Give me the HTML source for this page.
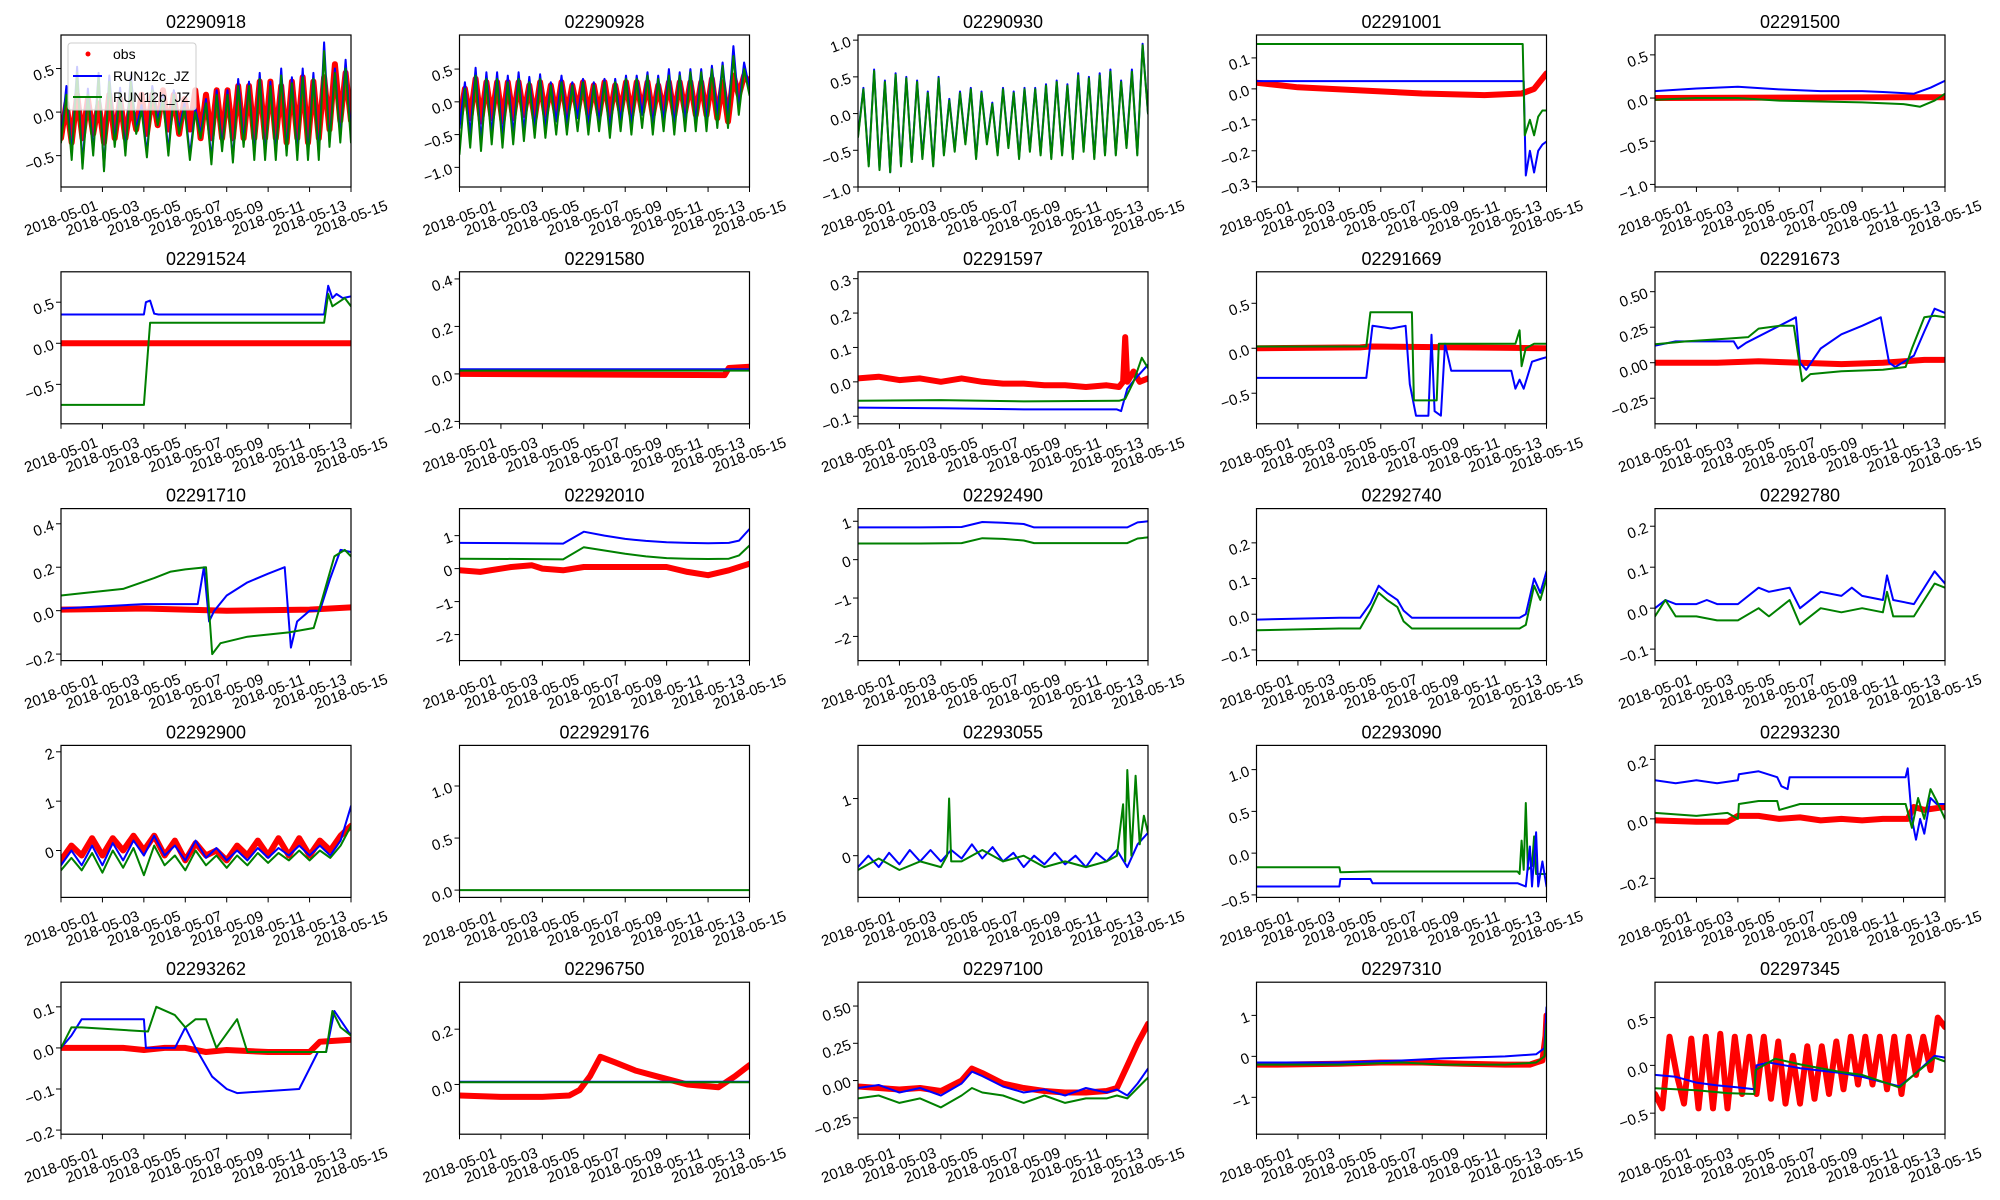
<!DOCTYPE html>
<html><head><meta charset="utf-8"><style>
html,body{margin:0;padding:0;background:#fff;}
svg{display:block;font-family:"Liberation Sans","DejaVu Sans",sans-serif;}
</style></head><body>
<svg id="fig" width="2000" height="1200" viewBox="0 0 2000 1200" xmlns="http://www.w3.org/2000/svg"></svg>
<script>
// ---------- data ----------
const xTickLabels = ["2018-05-01","2018-05-03","2018-05-05","2018-05-07","2018-05-09","2018-05-11","2018-05-13","2018-05-15"];
const xTickDays = [0,2,4,6,8,10,12,14];
const stationNames = ["02290918","02290928","02290930","02291001","02291500","02291524","02291580","02291597","02291669","02291673","02291710","02292010","02292490","02292740","02292780","02292900","022929176","02293055","02293090","02293230","02293262","02296750","02297100","02297310","02297345"];
const yMins = [-0.86,-1.3,-1.0,-0.317,-1.03,-0.98,-0.21,-0.122,-0.84,-0.43,-0.23,-2.79,-2.63,-0.13,-0.128,-0.95,-0.07,-0.73,-0.53,-0.264,-0.21,-0.18,-0.36,-1.9,-0.72];
const yMaxs = [0.885,1.02,1.07,0.174,0.73,0.87,0.43,0.32,0.85,0.64,0.47,1.82,1.33,0.296,0.243,2.13,1.39,1.93,1.29,0.247,0.16,0.37,0.66,1.81,0.87];
const yTicks = [[-0.5,0,0.5],[-1,-0.5,0,0.5],[-1,-0.5,0,0.5,1],[-0.3,-0.2,-0.1,0,0.1],[-1,-0.5,0,0.5],[-0.5,0,0.5],[-0.2,0,0.2,0.4],[-0.1,0,0.1,0.2,0.3],[-0.5,0,0.5],[-0.25,0,0.25,0.5],[-0.2,0,0.2,0.4],[-2,-1,0,1],[-2,-1,0,1],[-0.1,0,0.1,0.2],[-0.1,0,0.1,0.2],[0,1,2],[0,0.5,1],[0,1],[-0.5,0,0.5,1],[-0.2,0,0.2],[-0.2,-0.1,0,0.1],[0,0.2],[-0.25,0,0.25,0.5],[-1,0,1],[-0.5,0,0.5]];
const yTickLabels = [["−0.5","0.0","0.5"],["−1.0","−0.5","0.0","0.5"],["−1.0","−0.5","0.0","0.5","1.0"],["−0.3","−0.2","−0.1","0.0","0.1"],["−1.0","−0.5","0.0","0.5"],["−0.5","0.0","0.5"],["−0.2","0.0","0.2","0.4"],["−0.1","0.0","0.1","0.2","0.3"],["−0.5","0.0","0.5"],["−0.25","0.00","0.25","0.50"],["−0.2","0.0","0.2","0.4"],["−2","−1","0","1"],["−2","−1","0","1"],["−0.1","0.0","0.1","0.2"],["−0.1","0.0","0.1","0.2"],["0","1","2"],["0.0","0.5","1.0"],["0","1"],["−0.5","0.0","0.5","1.0"],["−0.2","0.0","0.2"],["−0.2","−0.1","0.0","0.1"],["0.0","0.2"],["−0.25","0.00","0.25","0.50"],["−1","0","1"],["−0.5","0.0","0.5"]];

// uniform-in-time series (values spread from day 0 to day 14)
const p1Obs = [-0.3,0.1,-0.35,0.2,-0.3,0.15,-0.25,0.1,-0.35,0.2,-0.3,0.15,-0.3,0.1,-0.2,0.2,-0.25,0.2,-0.15,0.25,-0.2,0.2,-0.25,0.15,-0.2,0.25,-0.3,0.2,-0.3,0.25,-0.3,0.25,-0.3,0.3,-0.3,0.3,-0.3,0.35,-0.3,0.35,-0.3,0.3,-0.35,0.35,-0.3,0.4,-0.35,0.35,-0.3,0.4,-0.2,0.55,-0.1,0.45,-0.1];
const p1Blue = [-0.3,0.3,-0.5,0.52,-0.6,0.27,-0.45,0.45,-0.65,0.42,-0.35,0.28,-0.45,0.42,-0.2,0.08,-0.48,0.3,-0.1,0.2,-0.45,0.25,-0.2,0.1,-0.5,0.05,-0.25,0.15,-0.55,0.25,-0.4,0.25,-0.55,0.38,-0.35,0.35,-0.5,0.45,-0.5,0.35,-0.5,0.5,-0.45,0.4,-0.5,0.5,-0.5,0.45,-0.5,0.8,-0.35,0.5,-0.3,0.6,-0.3];
const p1Green = [-0.35,0.2,-0.55,0.45,-0.65,0.2,-0.5,0.4,-0.68,0.35,-0.4,0.22,-0.5,0.35,-0.25,0.02,-0.52,0.25,-0.15,0.15,-0.5,0.2,-0.25,0.05,-0.55,0.0,-0.3,0.1,-0.6,0.2,-0.45,0.2,-0.58,0.3,-0.4,0.3,-0.55,0.38,-0.55,0.3,-0.55,0.42,-0.5,0.33,-0.55,0.4,-0.55,0.38,-0.55,0.7,-0.4,0.45,-0.35,0.5,-0.35];
const p2Obs = [-0.3,0.2,-0.25,0.35,-0.3,0.3,-0.25,0.3,-0.3,0.3,-0.25,0.3,-0.2,0.25,-0.25,0.3,-0.2,0.25,-0.2,0.3,-0.2,0.25,-0.15,0.3,-0.2,0.25,-0.2,0.3,-0.2,0.25,-0.15,0.3,-0.2,0.3,-0.15,0.3,-0.2,0.25,-0.15,0.3,-0.2,0.3,-0.15,0.3,-0.2,0.3,-0.2,0.35,-0.25,0.3,-0.3,0.4,0.1,0.4,0.3];
const p2Blue = [-0.4,0.3,-0.5,0.52,-0.6,0.45,-0.5,0.45,-0.55,0.4,-0.5,0.45,-0.45,0.38,-0.4,0.42,-0.4,0.3,-0.3,0.4,-0.35,0.3,-0.25,0.35,-0.35,0.3,-0.3,0.35,-0.4,0.35,-0.3,0.4,-0.35,0.4,-0.2,0.45,-0.35,0.4,-0.3,0.5,-0.35,0.45,-0.3,0.5,-0.3,0.5,-0.3,0.55,-0.2,0.6,-0.25,0.85,-0.1,0.6,0.2];
const p2Green = [-0.8,0.2,-0.7,0.4,-0.75,0.35,-0.65,0.35,-0.7,0.3,-0.65,0.35,-0.6,0.3,-0.55,0.35,-0.55,0.25,-0.5,0.3,-0.5,0.25,-0.45,0.3,-0.5,0.25,-0.45,0.3,-0.55,0.3,-0.45,0.35,-0.5,0.35,-0.4,0.4,-0.5,0.35,-0.45,0.4,-0.5,0.4,-0.45,0.45,-0.45,0.45,-0.45,0.5,-0.4,0.55,-0.4,0.7,-0.2,0.5,0.1];
const p3Blue = [-0.3,0.35,-0.7,0.6,-0.75,0.45,-0.8,0.55,-0.7,0.5,-0.65,0.45,-0.6,0.3,-0.7,0.5,-0.55,0.2,-0.5,0.3,-0.4,0.35,-0.6,0.3,-0.4,0.15,-0.55,0.35,-0.45,0.3,-0.6,0.35,-0.5,0.35,-0.55,0.4,-0.6,0.45,-0.55,0.4,-0.6,0.55,-0.5,0.5,-0.6,0.55,-0.55,0.6,-0.55,0.45,-0.45,0.6,-0.55,0.95,0.0];
const p3Green = [-0.32,0.33,-0.72,0.58,-0.77,0.43,-0.8,0.53,-0.72,0.48,-0.66,0.43,-0.62,0.28,-0.72,0.48,-0.57,0.18,-0.52,0.28,-0.42,0.33,-0.62,0.28,-0.42,0.13,-0.57,0.33,-0.47,0.28,-0.62,0.33,-0.52,0.33,-0.57,0.38,-0.62,0.43,-0.57,0.38,-0.62,0.52,-0.52,0.48,-0.62,0.52,-0.57,0.57,-0.57,0.43,-0.47,0.57,-0.57,0.93,0.0];
const p16Obs = [-0.2,0.1,-0.1,0.25,-0.1,0.25,0.0,0.3,0.0,0.3,-0.1,0.2,-0.2,0.15,-0.1,0.0,-0.2,0.1,-0.1,0.2,-0.1,0.25,-0.1,0.25,-0.1,0.2,0.0,0.3,0.5];
const p16Blue = [-0.3,0.0,-0.3,0.1,-0.3,0.15,-0.2,0.2,-0.1,0.3,-0.1,0.1,-0.2,0.2,-0.15,0.05,-0.2,0.0,-0.2,0.05,-0.15,0.05,-0.1,0.1,-0.1,0.1,-0.1,0.2,0.9];
const p16Green = [-0.4,-0.15,-0.4,-0.05,-0.45,0.0,-0.35,0.05,-0.5,0.1,-0.3,-0.1,-0.4,0.0,-0.3,-0.1,-0.35,-0.1,-0.3,-0.05,-0.25,-0.05,-0.2,0.0,-0.2,0.0,-0.15,0.1,0.5];
const p18Blue = [-0.2,0.0,-0.2,0.05,-0.15,0.1,-0.1,0.1,-0.1,0.1,-0.05,0.2,-0.05,0.15,-0.1,0.05,-0.2,0.0,-0.15,0.05,-0.15,0.0,-0.2,0.05,-0.1,0.1,-0.2,0.2,0.4];
const p25Obs = [-0.3,-0.45,0.3,-0.1,-0.4,0.28,-0.45,0.3,-0.45,0.33,-0.45,0.3,-0.3,0.3,-0.3,0.3,-0.35,0.25,-0.4,0.1,-0.4,0.2,-0.35,0.2,-0.3,0.25,-0.25,0.3,-0.2,0.3,-0.2,0.3,-0.25,0.3,-0.3,0.3,-0.1,0.3,-0.05,0.5,0.4];

// time-stamped series: [days] and [values]
const p4ObsT=[0,2,5,8,11,12.8,13.4,14], p4ObsV=[0.02,0.005,-0.005,-0.015,-0.02,-0.015,0.0,0.05];
const p4BlueT=[0,12.9,13.0,13.2,13.4,13.6,13.8,14], p4BlueV=[0.025,0.025,-0.28,-0.2,-0.27,-0.2,-0.18,-0.17];
const p4GreenT=[0,12.85,12.95,13.2,13.4,13.6,13.8,14], p4GreenV=[0.145,0.145,-0.15,-0.1,-0.15,-0.09,-0.07,-0.07];
const p5ObsT=[0,14], p5ObsV=[0.0,0.01];
const p5BlueT=[0,2,4,6,8,10,11,12.5,13.3,14], p5BlueV=[0.08,0.11,0.13,0.1,0.08,0.08,0.07,0.05,0.12,0.2];
const p5GreenT=[0,2,4,6,8,10,12,12.8,13.5,14], p5GreenV=[-0.02,0.0,0.0,-0.03,-0.04,-0.05,-0.07,-0.1,-0.03,0.05];
const p6ObsT=[0,14], p6ObsV=[0.0,0.0];
const p6BlueT=[0,4.0,4.1,4.3,4.5,4.7,12.7,12.9,13.1,13.3,13.6,14], p6BlueV=[0.35,0.35,0.5,0.52,0.36,0.35,0.35,0.7,0.55,0.6,0.55,0.57];
const p6GreenT=[0,4.0,4.3,12.7,12.9,13.1,13.4,13.7,14], p6GreenV=[-0.75,-0.75,0.25,0.25,0.6,0.45,0.5,0.55,0.45];
const p7ObsT=[0,12.8,13.0,14], p7ObsV=[0.0,-0.005,0.025,0.03];
const p7BlueT=[0,14], p7BlueV=[0.02,0.02];
const p7GreenT=[0,14], p7GreenV=[0.014,0.014];
const p8ObsT=[0,1,2,3,4,5,6,7,8,9,10,11,12,12.6,12.8,12.9,13.0,13.3,13.6,14], p8ObsV=[0.01,0.015,0.005,0.01,0.0,0.01,0.0,-0.005,-0.005,-0.01,-0.01,-0.015,-0.01,-0.015,0.0,0.13,0.0,0.03,0.0,0.01];
const p8BlueT=[0,4,8,12.5,12.7,13.0,13.4,14], p8BlueV=[-0.075,-0.077,-0.08,-0.08,-0.085,-0.02,0.01,0.05];
const p8GreenT=[0,4,8,12.6,12.9,13.3,13.7,14], p8GreenV=[-0.055,-0.053,-0.057,-0.055,-0.05,0.0,0.07,0.04];
const p9ObsT=[0,5,5.5,14], p9ObsV=[0.0,0.01,0.02,0.0];
const p9BlueT=[0,5.3,5.6,6.5,7.2,7.4,7.7,8.3,8.45,8.6,8.9,9.1,9.4,12.3,12.5,12.7,12.9,13.3,13.7,14], p9BlueV=[-0.33,-0.33,0.25,0.22,0.25,-0.4,-0.75,-0.75,0.15,-0.7,-0.75,0.05,-0.25,-0.25,-0.45,-0.35,-0.45,-0.15,-0.12,-0.1];
const p9GreenT=[0,5.3,5.5,7.5,7.6,8.7,8.8,12.5,12.7,12.8,13.0,13.4,14], p9GreenV=[0.02,0.02,0.4,0.4,-0.58,-0.58,0.05,0.05,0.2,-0.2,0.0,0.05,0.05];
const p10ObsT=[0,3,5,7,9,11,13,14], p10ObsV=[0.0,0.0,0.01,0.0,-0.01,0.0,0.02,0.02];
const p10BlueT=[0,1,3.8,4.0,4.4,6.8,7.0,7.3,8.0,9,10,10.9,11.3,11.6,12.5,13.0,13.5,14], p10BlueV=[0.12,0.15,0.15,0.1,0.14,0.32,0.0,-0.05,0.1,0.2,0.26,0.32,0.0,-0.03,0.05,0.22,0.38,0.35];
const p10GreenT=[0,1.5,3.5,4.5,5.0,6.0,6.7,7.1,7.5,9,11,12.1,12.4,13.0,13.5,14], p10GreenV=[0.13,0.15,0.17,0.18,0.24,0.26,0.26,-0.13,-0.08,-0.06,-0.05,-0.03,0.1,0.32,0.33,0.32];
const p11ObsT=[0,4,8,12,14], p11ObsV=[0.005,0.01,0.0,0.005,0.015];
const p11BlueT=[0,4,6.6,6.9,7.15,7.4,8,9,10,10.8,11.1,11.4,12,12.5,13,13.5,14], p11BlueV=[0.01,0.03,0.03,0.2,-0.05,0.0,0.07,0.13,0.17,0.2,-0.17,-0.05,0.0,0.0,0.15,0.28,0.27];
const p11GreenT=[0,1,3,4.5,5.3,6,7.0,7.3,7.7,9,11,12.2,12.6,13.2,13.7,14], p11GreenV=[0.07,0.08,0.1,0.15,0.18,0.19,0.2,-0.2,-0.15,-0.12,-0.1,-0.08,0.05,0.25,0.28,0.25];
const p12ObsT=[0,1,2.5,3.5,4,5,6,8,10,11,12,13,14], p12ObsV=[-0.05,-0.1,0.05,0.1,0.0,-0.05,0.05,0.05,0.05,-0.1,-0.2,-0.05,0.15];
const p12BlueT=[0,3,5,6,7,8,9,10,11,12,13,13.5,14], p12BlueV=[0.78,0.77,0.76,1.12,1.0,0.9,0.84,0.8,0.78,0.77,0.78,0.85,1.2];
const p12GreenT=[0,3,5,6,7,8,9,10,11,12,13,13.5,14], p12GreenV=[0.3,0.29,0.28,0.65,0.55,0.45,0.37,0.32,0.3,0.29,0.3,0.4,0.7];
const p13BlueT=[0,3,5,6,7,8,8.5,10,12,13,13.5,14], p13BlueV=[0.84,0.84,0.85,0.98,0.96,0.93,0.84,0.84,0.84,0.84,0.97,1.0];
const p13GreenT=[0,3,5,6,7,8,8.5,10,12,13,13.5,14], p13GreenV=[0.42,0.42,0.43,0.56,0.54,0.5,0.43,0.43,0.43,0.43,0.55,0.58];
const p14BlueT=[0,4,5,5.5,5.9,6.3,6.8,7.1,7.5,12.7,13.0,13.4,13.7,14], p14BlueV=[-0.015,-0.01,-0.01,0.03,0.08,0.06,0.04,0.01,-0.01,-0.01,0.0,0.1,0.06,0.12];
const p14GreenT=[0,4,5,5.5,5.9,6.3,6.8,7.1,7.5,12.7,13.0,13.4,13.7,14], p14GreenV=[-0.045,-0.04,-0.04,0.01,0.06,0.04,0.02,-0.02,-0.04,-0.04,-0.03,0.08,0.04,0.1];
const p15BlueT=[0,0.5,1,2,2.5,3,4,5,5.5,6.5,7,8,9,9.5,10,11,11.2,11.5,12.5,13.5,14], p15BlueV=[0.0,0.02,0.01,0.01,0.02,0.01,0.01,0.05,0.04,0.05,0.0,0.04,0.03,0.05,0.03,0.02,0.08,0.02,0.01,0.09,0.06];
const p15GreenT=[0,0.5,1,2,3,4,5,5.5,6.5,7,8,9,10,11,11.2,11.5,12.5,13.5,14], p15GreenV=[-0.02,0.02,-0.02,-0.02,-0.03,-0.03,0.0,-0.02,0.02,-0.04,0.0,-0.01,0.0,-0.01,0.04,-0.02,-0.02,0.06,0.05];
const p17GreenT=[0,14], p17GreenV=[0.0,0.0];
const p18GreenT=[0,1,2,3,4,4.3,4.4,4.5,5,6,7,8,9,10,11,12,12.5,12.8,12.9,13.0,13.2,13.4,13.6,13.8,14], p18GreenV=[-0.25,-0.05,-0.25,-0.1,-0.2,0.0,1.0,-0.1,-0.1,0.1,-0.1,0.0,-0.2,-0.1,-0.2,-0.1,0.0,0.9,-0.1,1.5,0.0,1.4,0.2,0.7,0.4];
const p19GreenT=[0,4.0,4.05,5.5,12.6,12.7,12.8,12.9,13.0,13.1,13.3,13.4,13.5,13.7,14], p19GreenV=[-0.17,-0.17,-0.23,-0.22,-0.22,-0.25,0.15,-0.2,0.6,-0.2,-0.15,0.2,-0.25,-0.25,-0.25];
const p19BlueT=[0,4.0,4.05,5.5,5.6,12.6,13.0,13.2,13.3,13.5,13.6,13.8,14], p19BlueV=[-0.4,-0.4,-0.31,-0.31,-0.36,-0.36,-0.4,0.08,-0.4,0.25,-0.4,-0.1,-0.4];
const p20ObsT=[0,2,3.5,4.0,5,6,7,8,9,10,11,12.2,12.5,13,14], p20ObsV=[-0.005,-0.01,-0.01,0.01,0.01,0.0,0.005,-0.005,0.0,-0.005,0.0,0.0,0.04,0.03,0.04];
const p20BlueT=[0,1,2,3,4,4.05,5,5.9,6.1,6.4,6.5,8,10,12.1,12.2,12.4,12.6,12.8,13.0,13.3,13.6,14], p20BlueV=[0.13,0.12,0.13,0.12,0.13,0.15,0.16,0.14,0.11,0.1,0.14,0.14,0.14,0.14,0.17,0.0,-0.07,0.0,-0.05,0.07,0.05,0.05];
const p20GreenT=[0,2,3.5,4.0,4.05,5,5.9,6.0,7,9,11,12.1,12.4,12.7,13.0,13.3,13.6,14], p20GreenV=[0.02,0.01,0.02,0.0,0.05,0.06,0.06,0.03,0.05,0.05,0.05,0.05,-0.03,0.07,0.0,0.1,0.06,0.0];
const p21ObsT=[0,3,4,5,6,7,8,10,12,12.5,14], p21ObsV=[0.0,0.0,-0.005,0.0,0.0,-0.01,-0.005,-0.01,-0.01,0.015,0.02];
const p21BlueT=[0,0.5,1,4.0,4.1,5.5,6,6.5,7.3,8,8.5,11.5,12,12.4,12.8,13.2,14], p21BlueV=[0.0,0.03,0.07,0.07,0.0,0.0,0.05,0.0,-0.07,-0.1,-0.11,-0.1,-0.05,-0.01,-0.01,0.09,0.03];
const p21GreenT=[0,0.5,1,4.2,4.6,5.5,6.0,6.5,7.0,7.5,8.5,9,12.5,12.8,13.1,13.5,14], p21GreenV=[0.0,0.05,0.05,0.04,0.1,0.08,0.05,0.07,0.07,0.0,0.07,-0.01,-0.01,-0.01,0.09,0.05,0.03];
const p22ObsT=[0,2,4,5.3,5.8,6.3,6.8,7.5,8.5,9.5,10.5,11,12.5,13.3,14], p22ObsV=[-0.04,-0.045,-0.045,-0.04,-0.02,0.03,0.1,0.08,0.05,0.03,0.01,0.0,-0.01,0.03,0.07];
const p22BlueT=[0,14], p22BlueV=[0.01,0.01];
const p22GreenT=[0,14], p22GreenV=[0.008,0.008];
const p23ObsT=[0,1,2,3,4,5,5.5,6,7,8,9,10,11,12,12.5,13,13.5,14], p23ObsV=[-0.04,-0.05,-0.06,-0.05,-0.07,0.0,0.08,0.05,-0.02,-0.05,-0.07,-0.08,-0.08,-0.07,-0.05,0.1,0.25,0.38];
const p23BlueT=[0,1,2,3,4,5,5.5,6,7,8,9,10,11,12,12.5,13,13.5,14], p23BlueV=[-0.05,-0.03,-0.08,-0.05,-0.1,-0.02,0.06,0.03,-0.04,-0.08,-0.06,-0.1,-0.05,-0.08,-0.06,-0.1,-0.02,0.08];
const p23GreenT=[0,1,2,3,4,5,5.5,6,7,8,9,10,11,12,12.5,13,13.5,14], p23GreenV=[-0.12,-0.1,-0.15,-0.12,-0.18,-0.1,-0.05,-0.08,-0.1,-0.15,-0.1,-0.15,-0.12,-0.12,-0.1,-0.12,-0.05,0.02];
const p24ObsT=[0,1,4,6,8,10,12,13.2,13.5,13.8,13.95,14], p24ObsV=[-0.2,-0.2,-0.18,-0.15,-0.15,-0.18,-0.2,-0.2,-0.15,-0.1,0.5,1.0];
const p24BlueT=[0,4,7,9,12,13.5,13.9,14], p24BlueV=[-0.15,-0.15,-0.1,-0.05,0.0,0.05,0.2,1.2];
const p24GreenT=[0,4,7,9,12,13.5,13.9,14], p24GreenV=[-0.2,-0.2,-0.15,-0.2,-0.2,-0.15,0.0,0.8];
const p25BlueT=[0,1,2,3,4,4.8,4.9,5.5,7,9,10,11.8,12.5,13.5,14], p25BlueV=[-0.1,-0.12,-0.18,-0.21,-0.23,-0.25,0.0,0.03,-0.03,-0.08,-0.12,-0.22,-0.1,0.1,0.08];
const p25GreenT=[0,2,3.5,4.8,4.85,5.8,7,9,10,11.8,12.5,13.5,14], p25GreenV=[-0.24,-0.26,-0.29,-0.3,-0.05,0.07,0.01,-0.07,-0.1,-0.23,-0.1,0.08,0.04];

// ---------- series table per panel ----------
const panelSeries = [
  [["obs",p1Obs],["blue",p1Blue],["green",p1Green]],
  [["obs",p2Obs],["blue",p2Blue],["green",p2Green]],
  [["blue",p3Blue],["green",p3Green]],
  [["obs",p4ObsV,p4ObsT],["blue",p4BlueV,p4BlueT],["green",p4GreenV,p4GreenT]],
  [["obs",p5ObsV,p5ObsT],["blue",p5BlueV,p5BlueT],["green",p5GreenV,p5GreenT]],
  [["obs",p6ObsV,p6ObsT],["blue",p6BlueV,p6BlueT],["green",p6GreenV,p6GreenT]],
  [["obs",p7ObsV,p7ObsT],["blue",p7BlueV,p7BlueT],["green",p7GreenV,p7GreenT]],
  [["obs",p8ObsV,p8ObsT],["blue",p8BlueV,p8BlueT],["green",p8GreenV,p8GreenT]],
  [["obs",p9ObsV,p9ObsT],["blue",p9BlueV,p9BlueT],["green",p9GreenV,p9GreenT]],
  [["obs",p10ObsV,p10ObsT],["blue",p10BlueV,p10BlueT],["green",p10GreenV,p10GreenT]],
  [["obs",p11ObsV,p11ObsT],["blue",p11BlueV,p11BlueT],["green",p11GreenV,p11GreenT]],
  [["obs",p12ObsV,p12ObsT],["blue",p12BlueV,p12BlueT],["green",p12GreenV,p12GreenT]],
  [["blue",p13BlueV,p13BlueT],["green",p13GreenV,p13GreenT]],
  [["blue",p14BlueV,p14BlueT],["green",p14GreenV,p14GreenT]],
  [["blue",p15BlueV,p15BlueT],["green",p15GreenV,p15GreenT]],
  [["obs",p16Obs],["blue",p16Blue],["green",p16Green]],
  [["green",p17GreenV,p17GreenT]],
  [["blue",p18Blue],["green",p18GreenV,p18GreenT]],
  [["green",p19GreenV,p19GreenT],["blue",p19BlueV,p19BlueT]],
  [["obs",p20ObsV,p20ObsT],["blue",p20BlueV,p20BlueT],["green",p20GreenV,p20GreenT]],
  [["obs",p21ObsV,p21ObsT],["blue",p21BlueV,p21BlueT],["green",p21GreenV,p21GreenT]],
  [["obs",p22ObsV,p22ObsT],["blue",p22BlueV,p22BlueT],["green",p22GreenV,p22GreenT]],
  [["obs",p23ObsV,p23ObsT],["blue",p23BlueV,p23BlueT],["green",p23GreenV,p23GreenT]],
  [["obs",p24ObsV,p24ObsT],["blue",p24BlueV,p24BlueT],["green",p24GreenV,p24GreenT]],
  [["obs",p25Obs],["blue",p25BlueV,p25BlueT],["green",p25GreenV,p25GreenT]]
];

// ---------- drawing ----------
const NS = "http://www.w3.org/2000/svg";
const svg = document.getElementById("fig");
const PW = 290, PH = 152, L0 = 61, T0 = 35, DX = 398.5, DY = 236.8;
const COLORS = {obs:"#ff0000", blue:"#0000ff", green:"#008000"};
const SERIES_NAMES = {obs:"obs-series", blue:"run12c-jz-line", green:"run12b-jz-line"};
function mk(tag, attrs, parent){ const e=document.createElementNS(NS,tag); for(const k in attrs) e.setAttribute(k,attrs[k]); (parent||svg).appendChild(e); return e; }

const defs = mk("defs",{});
stationNames.forEach((name, i) => {
  const r = Math.floor(i/5), c = i%5;
  const left = L0 + c*DX, top = T0 + r*DY;
  const ymin = yMins[i], ymax = yMaxs[i];
  const xs = d => left + d/14*PW;
  const ys = v => top + (ymax - v)/(ymax - ymin)*PH;

  const g = mk("g",{});
  
  

  const cp = mk("clipPath",{id:"cp"+i}, defs);
  mk("rect",{x:left,y:top,width:PW,height:PH}, cp);

  const title = mk("text",{x:left+PW/2,y:top-7,"text-anchor":"middle","font-size":"18"}, g);
  title.textContent = name;
  
  

  const plot = mk("g",{"clip-path":"url(#cp"+i+")"}, g);
  panelSeries[i].forEach(s => {
    const kind = s[0], vals = s[1], ts = s[2];
    const n = vals.length;
    const pts = vals.map((v,k) => {
      const d = ts ? ts[k] : (n>1 ? k*14/(n-1) : 0);
      return xs(d).toFixed(1)+","+ys(v).toFixed(1);
    }).join(" ");
    const pl = mk("polyline",{points:pts,fill:"none",stroke:COLORS[kind],
      "stroke-width": kind==="obs" ? 6 : 2, "stroke-linejoin":"round","stroke-linecap":"round"}, plot);
    
    
  });

  const frame = mk("rect",{x:left,y:top,width:PW,height:PH,fill:"none",stroke:"#000","stroke-width":1.2}, g);
  
  

  xTickDays.forEach((d,k) => {
    const x = xs(d);
    mk("line",{x1:x,y1:top+PH,x2:x,y2:top+PH+5,stroke:"#000","stroke-width":1}, g);
    const t = mk("text",{x:x,y:top+PH+36,"text-anchor":"middle","font-size":"15",
      transform:"rotate(-20 "+x+" "+(top+PH+31)+")"}, g);
    t.textContent = xTickLabels[k];
    
    
  });
  yTicks[i].forEach((v,k) => {
    const y = ys(v);
    mk("line",{x1:left-5,y1:y,x2:left,y2:y,stroke:"#000","stroke-width":1}, g);
    const t = mk("text",{x:left-8,y:y+6,"text-anchor":"end","font-size":"15",
      transform:"rotate(-20 "+(left-8)+" "+y+")"}, g);
    t.textContent = yTickLabels[i][k];
    
    
  });

  if (i === 0) {
    const lg = mk("g",{}, g);
    
    
    mk("rect",{x:68,y:43,width:128,height:67,rx:3,fill:"#fff","fill-opacity":0.8,stroke:"#ccc","stroke-width":1}, lg);
    const entries = [["obs","obs",54],["blue","RUN12c_JZ",76],["green","RUN12b_JZ",97]];
    entries.forEach(en => {
      const eg = mk("g",{}, lg);
      
      
      if (en[0]==="obs") mk("circle",{cx:88,cy:en[2],r:2.5,fill:"#ff0000"}, eg);
      else mk("line",{x1:73,y1:en[2],x2:102,y2:en[2],stroke:COLORS[en[0]],"stroke-width":2}, eg);
      const t = mk("text",{x:113,y:en[2]+5,"font-size":"14"}, eg);
      t.textContent = en[1];
    });
  }
});
</script>
</body></html>
